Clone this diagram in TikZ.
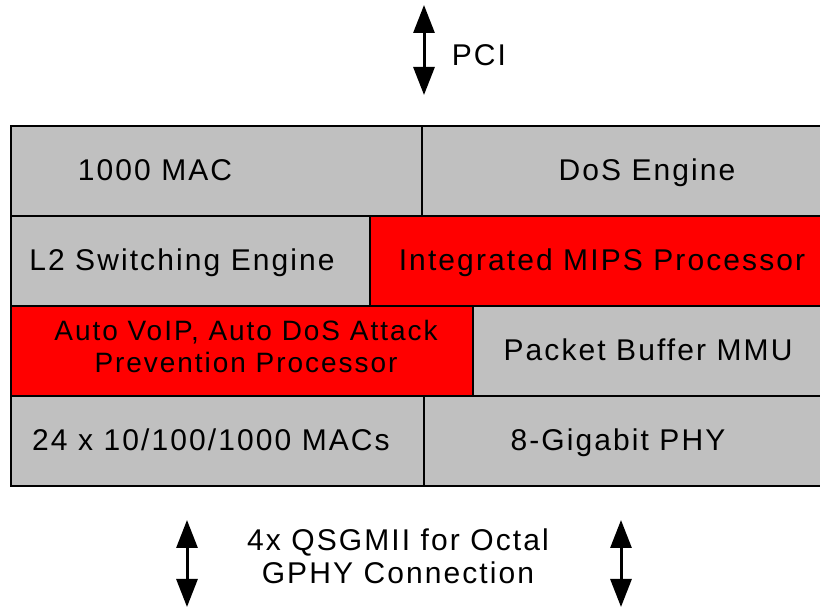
\documentclass[tikz,border=0pt]{standalone}
\usepackage{fontspec}
\setmainfont{Liberation Sans}[LetterSpace=7]
\usetikzlibrary{arrows.meta}

\begin{document}
\begin{tikzpicture}[x=1pt,y=-1pt,
  cell/.style={rectangle,draw,line width=1.5pt,fill=cellgray,inner sep=0pt,outer sep=0pt,anchor=north west,minimum height=90pt},
  redcell/.style={cell,fill=red},
  lbl/.style={font=\fontsize{30}{33}\selectfont,align=center,inner sep=0pt,text height=21.5pt,text depth=0pt},
  bus/.style={line width=3pt,{Triangle[width=21pt,length=28pt]}-{Triangle[width=21pt,length=28pt]}}]
\definecolor{cellgray}{RGB}{192,192,192}
\useasboundingbox (0,0) rectangle (820,609);
% row 1
\node(mac)[cell,minimum width=411pt] at (11,126){};
\node(dos)[cell,minimum width=399pt] at (422,126){};
% row 2
\node(ltwo)[cell,minimum width=359pt] at (11,216){};
\node(mips)[redcell,minimum width=451pt] at (370,216){};
% row 3
\node(voip)[redcell,minimum width=462pt] at (11,306){};
\node(buf)[cell,minimum width=348pt] at (473,306){};
% row 4
\node(macs)[cell,minimum width=413pt] at (11,396){};
\node(phy)[cell,minimum width=397pt] at (424,396){};
% labels
\node(maclbl)[lbl] at (155,170){1000 MAC};
\node(doslbl)[lbl] at (647,170){DoS Engine};
\node(ltwolbl)[lbl] at (182,260){L2 Switching Engine};
\node(mipslbl)[lbl] at (602,260){Integrated MIPS Processor};
\node(voiplbl)[lbl,font=\fontsize{28}{32}\selectfont,text height=20pt] at (246,363){Auto VoIP, Auto DoS Attack\\Prevention Processor};
\node(buflbl)[lbl] at (648,350){Packet Buffer MMU};
\node(macslbl)[lbl] at (211,440){24 x 10/100/1000 MACs};
\node(phylbl)[lbl] at (618,440){8-Gigabit PHY};
% buses
\coordinate(pcitop) at (424,5);
\coordinate(pcibot) at (424,95);
\node(pci)[lbl] at (479,55){PCI};
\coordinate(qltop) at (187,520);
\coordinate(qlbot) at (187,607);
\coordinate(qrtop) at (621,520);
\coordinate(qrbot) at (621,607);
\node(qsgmii)[lbl] at (398,573){4x QSGMII for Octal\\GPHY Connection};
\path[draw,bus] (pcitop) -- (pcibot);
\path[draw,bus] (qltop) -- (qlbot);
\path[draw,bus] (qrtop) -- (qrbot);
\end{tikzpicture}
\end{document}
